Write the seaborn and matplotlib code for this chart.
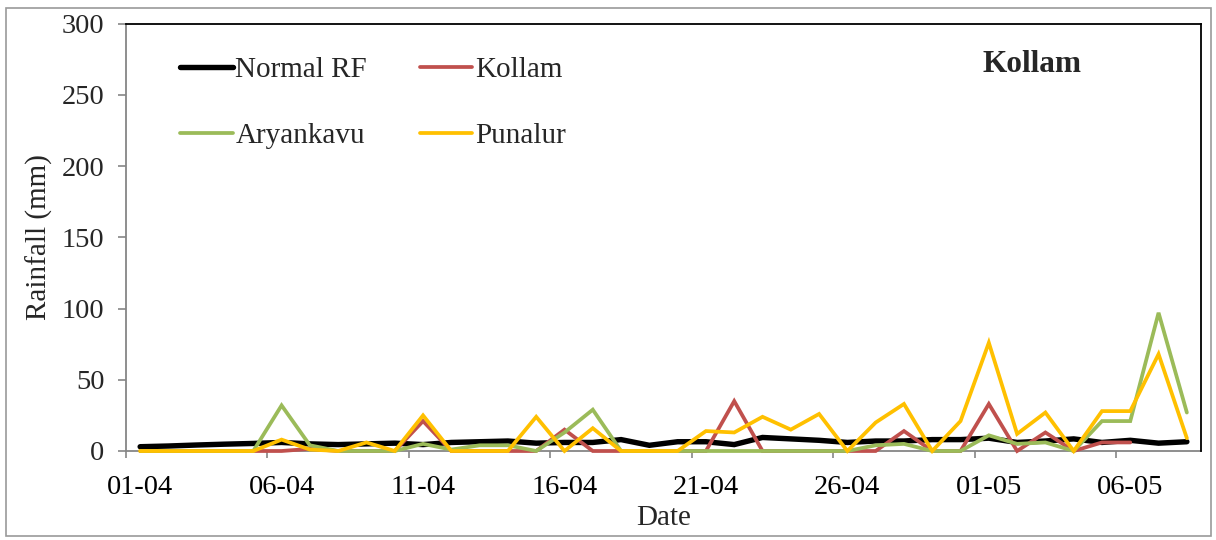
import numpy as np
import pandas as pd
import matplotlib
matplotlib.use("Agg")
import matplotlib.pyplot as plt
import seaborn as sns
from matplotlib.patches import Rectangle

dates = ["01-04", "02-04", "03-04", "04-04", "05-04", "06-04", "07-04", "08-04", "09-04", "10-04",
         "11-04", "12-04", "13-04", "14-04", "15-04", "16-04", "17-04", "18-04", "19-04", "20-04",
         "21-04", "22-04", "23-04", "24-04", "25-04", "26-04", "27-04", "28-04", "29-04", "30-04",
         "01-05", "02-05", "03-05", "04-05", "05-05", "06-05", "07-05", "08-05"]

normal_rf = [3, 3.5, 4.2, 4.8, 5.3, 6, 5, 4.5, 5, 5.5,
             4.5, 6, 6.5, 7, 5.5, 6, 6, 8, 4, 6.5,
             6.5, 4.5, 9.5, 8.5, 7.5, 6, 7, 7, 8, 8,
             9, 6, 7, 8.5, 6, 7.5, 5.5, 6.5]

kollam = [0, 0, 0, 0, 0, 0, 1.5, 0, 0, 0,
          21, 0, 0, 0, 0, 15, 0, 0, 0, 0,
          0, 35, 0, 0, 0, 0, 0, 14, 0, 0,
          33, 0, 13, 0, 6, 6, np.nan, np.nan]

aryankavu = [0, 0, 0, 0, 0, 32, 4, 0, 0, 0,
             5, 1, 4, 4, 0, 13, 29, 0, 0, 0,
             0, 0, 0, 0, 0, 0, 4, 5, 0, 0,
             11, 5, 6, 0, 21, 21, 97, 27]

punalur = [0, 0, 0, 0, 0, 8, 1, 0, 6, 0,
           25, 0, 0, 0, 24, 0, 16, 0, 0, 0,
           14, 13, 24, 15, 26, 0, 20, 33, 0, 21,
           76, 12, 27, 0, 28, 28, 68, 9]

series_names = ["Normal RF", "Kollam", "Aryankavu", "Punalur"]
series_values = [normal_rf, kollam, aryankavu, punalur]
colors = ["#000000", "#C0504D", "#9BBB59", "#FFC000"]
widths = [3.9, 2.7, 2.7, 2.7]

sns.set_theme(style="white")
plt.rcParams["font.family"] = ["Liberation Serif", "DejaVu Serif"]

W, H = 1216, 540
fig = plt.figure(figsize=(W / 100, H / 100), dpi=100)
ax = fig.add_axes([126 / W, 1 - 451 / H, (1201 - 126) / W, (451 - 23.5) / H])

idx = np.arange(len(dates))
for name, vals, col, lw in zip(series_names, series_values, colors, widths):
    df = pd.DataFrame({"x": idx, "y": vals})
    sns.lineplot(data=df, x="x", y="y", ax=ax, color=col, linewidth=lw, label=name,
                 solid_joinstyle="miter")
for line in ax.get_lines():
    line.set_clip_on(False)
    line.set_zorder(3)

ax.set_xlim(-0.5, len(dates) - 0.5)
ax.set_ylim(0, 300)
ax.set_yticks(np.arange(0, 301, 50))
ax.set_xticks(np.arange(-0.5, len(dates) - 0.5, 5))
ax.set_xticklabels([])
ax.set_xticks(idx[::5], minor=True)
ax.set_xticklabels([dates[i] for i in idx[::5]], minor=True)

grey = "#868686"
ax.tick_params(axis="x", which="major", length=5, width=1.2, color=grey, direction="out", bottom=True)
ax.tick_params(axis="x", which="minor", length=0, pad=17, labelsize=20.5, labelcolor="black", bottom=True)
ax.tick_params(axis="y", which="major", length=5.5, width=1.2, color=grey, direction="out",
               pad=10, labelsize=20.5, left=True)

for side in ["left", "bottom"]:
    ax.spines[side].set_color(grey)
    ax.spines[side].set_linewidth(1.3)
    ax.spines[side].set_zorder(2)
for side in ["top", "right"]:
    ax.spines[side].set_color("black")
    ax.spines[side].set_linewidth(1.3)

ax.set_xlabel("Date", fontsize=21, labelpad=4)
ax.set_ylabel("Rainfall (mm)", fontsize=21, labelpad=6)

handles, labels = ax.get_legend_handles_labels()
order = [0, 2, 1, 3]
leg = ax.legend([handles[i] for i in order], [labels[i] for i in order],
                ncol=2, loc="upper left", bbox_to_anchor=(180 / W, 1 - 57 / H),
                bbox_transform=fig.transFigure, frameon=False, fontsize=21,
                handlelength=1.8, handletextpad=0.1, columnspacing=1.8,
                labelspacing=1.35, borderpad=0, borderaxespad=0)

fig.text(1032 / W, 1 - 64 / H, "Kollam", fontsize=22.5, fontweight="bold",
         ha="center", va="center")

fig.patches.append(Rectangle((6 / W, 1 - 536 / H), (1211 - 6) / W, (536 - 8) / H,
                             transform=fig.transFigure, fill=False, edgecolor="#9a9a9a",
                             linewidth=1.2))

fig.savefig("out.png", dpi=100)
